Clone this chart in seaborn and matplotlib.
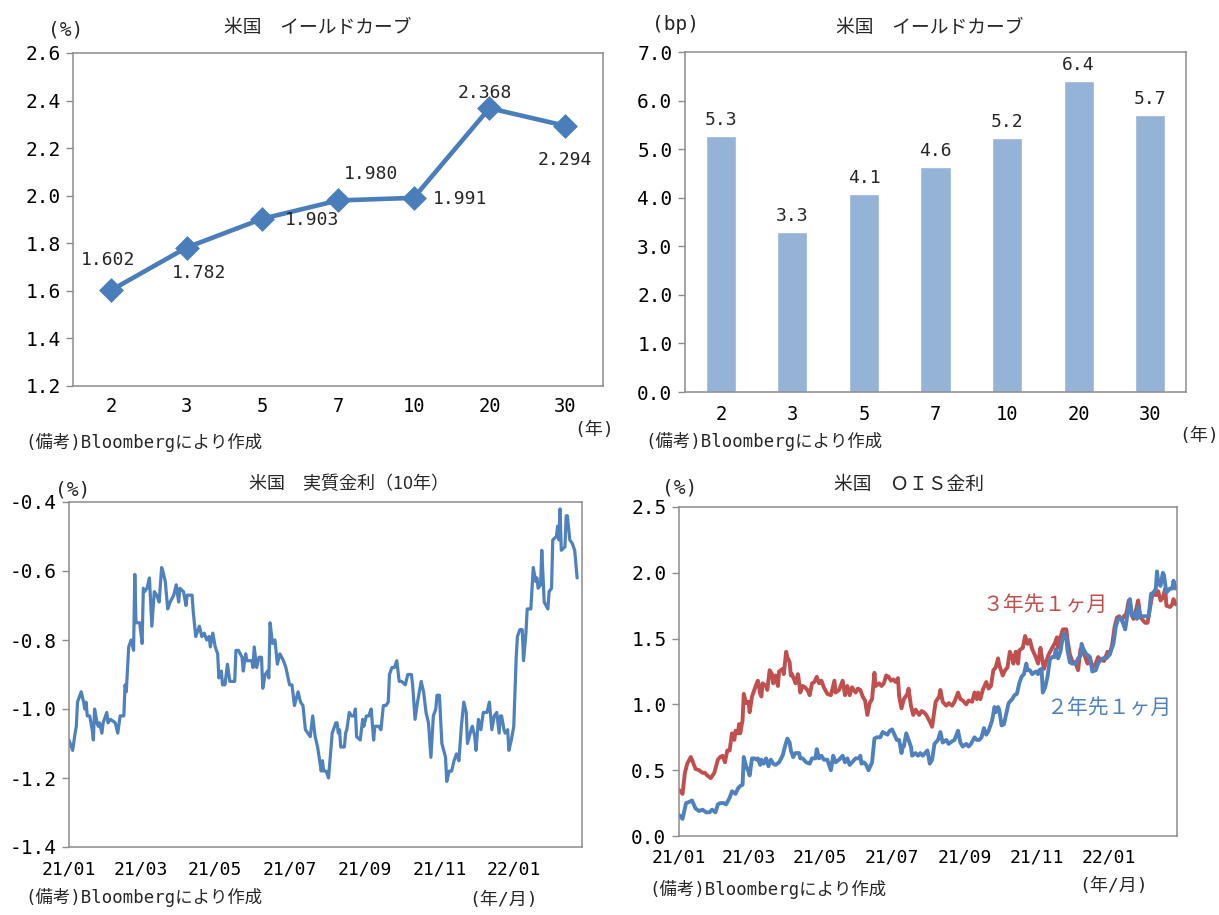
import numpy as np
import pandas as pd
import matplotlib
matplotlib.use("Agg")
import matplotlib.pyplot as plt
import matplotlib.dates as mdates
import seaborn as sns

sns.set_theme(style="white")
plt.rcParams['font.family'] = ['DejaVu Sans Mono', 'Noto Sans CJK JP']
plt.rcParams['axes.unicode_minus'] = False

# ---------------- data ----------------
maturities = ["2", "3", "5", "7", "10", "20", "30"]
yields_pct = [1.602, 1.782, 1.903, 1.980, 1.991, 2.368, 2.294]
yield_chg_bp = [5.27, 3.30, 4.07, 4.64, 5.23, 6.41, 5.71]

start_date = "2021-01-01"
# US 10y real rate: days since 2021-01-01, value (%)
real_days = [0, 3, 5, 6, 7, 10, 12, 13, 14, 15, 17, 19, 20, 21, 23, 24, 25, 27, 28, 31,
             32, 34, 38, 40, 42, 45, 46, 47, 49, 51, 53, 54, 55, 58, 60, 61, 62, 64, 66, 68,
             70, 72, 74, 76, 77, 79, 81, 83, 86, 88, 90, 91, 94, 96, 97, 101, 102, 104, 107, 109,
             111, 113, 115, 116, 118, 120, 122, 123, 125, 126, 128, 130, 132, 136, 137, 139, 142, 143, 145, 146,
             150, 151, 152, 154, 156, 158, 159, 161, 163, 164, 165, 167, 169, 171, 173, 176, 178, 181, 183, 185,
             188, 190, 192, 194, 196, 198, 200, 202, 204, 207, 208, 209, 211, 213, 216, 219, 220, 221, 222, 223,
             226, 227, 228, 230, 232, 234, 235, 236, 239, 241, 242, 244, 246, 248, 250, 251, 254, 256, 258, 260,
             262, 263, 265, 267, 269, 271, 273, 276, 278, 281, 282, 284, 286, 289, 291, 293, 295, 297, 299, 301,
             302, 304, 306, 309, 310, 312, 314, 316, 318, 320, 322, 324, 326, 327, 330, 331, 333, 334, 336, 338,
             340, 343, 345, 347, 349, 351, 353, 354, 355, 357, 358, 360, 361, 363, 365, 367, 368, 370, 372, 373,
             375, 376, 379, 381, 383, 384, 385, 387, 388, 390, 393, 394, 396, 397, 400, 401, 402, 403, 404, 407,
             408, 409, 411, 413, 415, 417]
real_rate = [-1.09, -1.12, -1.07, -1.05, -0.98, -0.95, -0.98, -1.00, -0.98, -1.02, -1.02, -1.06, -1.09, -1.00, -1.04, -1.05, -1.04, -1.07, -1.04, -1.01,
             -1.04, -1.03, -1.04, -1.07, -1.02, -1.02, -0.93, -0.95, -0.82, -0.80, -0.83, -0.61, -0.75, -0.75, -0.81, -0.65, -0.66, -0.65, -0.62, -0.76,
             -0.66, -0.67, -0.69, -0.59, -0.60, -0.63, -0.71, -0.69, -0.67, -0.64, -0.69, -0.65, -0.66, -0.70, -0.67, -0.67, -0.72, -0.79, -0.76, -0.79,
             -0.78, -0.80, -0.79, -0.82, -0.78, -0.82, -0.84, -0.91, -0.89, -0.93, -0.93, -0.87, -0.92, -0.92, -0.83, -0.83, -0.85, -0.89, -0.84, -0.86,
             -0.86, -0.88, -0.82, -0.88, -0.85, -0.85, -0.94, -0.90, -0.89, -0.91, -0.75, -0.81, -0.80, -0.87, -0.84, -0.86, -0.88, -0.93, -0.93, -0.99,
             -0.95, -0.98, -0.99, -1.06, -1.07, -1.08, -1.02, -1.08, -1.11, -1.18, -1.15, -1.18, -1.18, -1.20, -1.07, -1.04, -1.04, -1.07, -1.06, -1.11,
             -1.11, -1.07, -1.06, -1.01, -1.02, -1.02, -1.00, -1.08, -1.09, -1.03, -1.05, -1.02, -1.02, -1.00, -1.09, -1.05, -1.05, -1.06, -0.99, -0.99,
             -0.98, -0.90, -0.88, -0.88, -0.86, -0.92, -0.92, -0.93, -0.90, -0.90, -0.93, -1.03, -0.98, -0.92, -0.95, -1.01, -1.04, -1.14, -1.02, -1.00,
             -0.96, -0.96, -1.10, -1.14, -1.21, -1.18, -1.18, -1.15, -1.13, -1.15, -1.05, -0.98, -1.01, -1.10, -1.06, -1.05, -1.08, -1.12, -1.03, -1.06,
             -1.01, -1.01, -0.98, -1.06, -1.02, -1.01, -1.07, -1.02, -1.02, -1.06, -1.07, -1.06, -1.12, -1.09, -1.05, -0.85, -0.79, -0.77, -0.77, -0.86,
             -0.78, -0.71, -0.71, -0.59, -0.63, -0.62, -0.65, -0.64, -0.54, -0.69, -0.71, -0.66, -0.65, -0.51, -0.50, -0.47, -0.51, -0.42, -0.54, -0.53,
             -0.44, -0.44, -0.51, -0.52, -0.54, -0.62]

# US OIS 3y-forward 1m
ois3_days = [0, 3, 5, 7, 10, 11, 14, 17, 20, 22, 24, 27, 30, 33, 35, 37, 39, 41, 43, 45,
             47, 48, 50, 51, 52, 54, 55, 57, 59, 60, 62, 64, 66, 67, 69, 70, 71, 74, 75, 77,
             79, 80, 82, 84, 85, 88, 89, 91, 92, 94, 95, 96, 99, 101, 102, 103, 105, 107, 109, 111,
             113, 115, 117, 119, 121, 123, 126, 129, 132, 133, 136, 139, 141, 143, 145, 147, 150, 152, 154, 156,
             158, 160, 162, 164, 166, 167, 170, 172, 174, 176, 178, 180, 182, 184, 186, 187, 189, 191, 194, 195,
             197, 199, 201, 204, 206, 208, 210, 213, 215, 218, 221, 222, 224, 227, 229, 232, 234, 237, 239, 241,
             244, 246, 249, 251, 253, 254, 256, 258, 261, 263, 265, 267, 269, 271, 272, 275, 277, 279, 281, 283,
             284, 286, 288, 289, 292, 294, 296, 298, 300, 303, 305, 307, 308, 310, 312, 314, 317, 319, 321, 322,
             324, 326, 329, 330, 332, 334, 337, 339, 341, 343, 345, 347, 349, 351, 354, 356, 358, 361, 364, 366,
             368, 370, 372, 374, 376, 378, 380, 382, 384, 386, 388, 390, 392, 394, 396, 398, 400, 402, 404, 405,
             407, 409, 411, 413, 414, 417, 419, 420, 422]
ois3_rate = [0.35, 0.32, 0.48, 0.55, 0.60, 0.58, 0.51, 0.50, 0.48, 0.48, 0.46, 0.44, 0.48, 0.58, 0.60, 0.61, 0.56, 0.65, 0.65, 0.78,
             0.73, 0.80, 0.78, 0.85, 0.78, 0.88, 1.08, 1.01, 1.02, 0.94, 1.06, 1.11, 1.16, 1.18, 1.08, 1.06, 1.16, 1.14, 1.11, 1.26,
             1.23, 1.16, 1.22, 1.14, 1.25, 1.27, 1.23, 1.40, 1.36, 1.32, 1.22, 1.23, 1.16, 1.23, 1.17, 1.09, 1.14, 1.13, 1.11, 1.07,
             1.16, 1.17, 1.21, 1.16, 1.18, 1.13, 1.08, 1.07, 1.18, 1.09, 1.11, 1.18, 1.07, 1.14, 1.07, 1.13, 1.09, 1.12, 1.11, 1.06,
             1.03, 0.92, 1.01, 1.04, 1.24, 1.14, 1.16, 1.14, 1.16, 1.22, 1.21, 1.18, 1.19, 1.17, 1.20, 1.06, 0.97, 1.04, 1.08, 1.12,
             0.99, 0.92, 0.96, 0.92, 0.95, 0.94, 0.92, 0.87, 0.83, 1.02, 1.06, 1.11, 1.02, 0.99, 1.01, 0.99, 1.02, 1.09, 1.04, 1.03,
             1.00, 1.03, 1.02, 1.09, 1.04, 1.09, 1.04, 1.11, 1.17, 1.12, 1.14, 1.26, 1.28, 1.35, 1.30, 1.22, 1.26, 1.28, 1.40, 1.36,
             1.31, 1.40, 1.31, 1.41, 1.43, 1.52, 1.46, 1.49, 1.42, 1.36, 1.31, 1.43, 1.37, 1.27, 1.33, 1.38, 1.43, 1.46, 1.51, 1.43,
             1.51, 1.57, 1.57, 1.49, 1.38, 1.33, 1.31, 1.26, 1.42, 1.40, 1.36, 1.31, 1.36, 1.28, 1.31, 1.36, 1.34, 1.33, 1.40, 1.38,
             1.46, 1.59, 1.66, 1.67, 1.64, 1.67, 1.69, 1.79, 1.69, 1.65, 1.71, 1.79, 1.66, 1.64, 1.62, 1.62, 1.73, 1.83, 1.84, 1.83,
             1.86, 1.79, 1.81, 1.88, 1.75, 1.74, 1.76, 1.80, 1.76]

# US OIS 2y-forward 1m
ois2_days = [0, 3, 6, 9, 11, 14, 17, 20, 23, 26, 28, 31, 33, 35, 38, 40, 43, 45, 48, 50,
             52, 54, 55, 57, 59, 60, 62, 64, 66, 67, 69, 70, 72, 74, 76, 78, 80, 82, 85, 88,
             90, 92, 94, 95, 97, 99, 102, 103, 105, 108, 111, 113, 116, 117, 119, 121, 123, 126, 129, 131,
             133, 136, 139, 141, 143, 145, 147, 150, 153, 154, 155, 157, 159, 161, 163, 164, 166, 168, 171, 173,
             175, 177, 179, 181, 183, 185, 187, 189, 190, 191, 193, 195, 197, 198, 201, 203, 205, 207, 209, 211,
             213, 215, 217, 220, 222, 224, 227, 229, 232, 234, 237, 239, 241, 244, 246, 248, 251, 253, 255, 257,
             259, 261, 263, 266, 268, 269, 271, 272, 274, 276, 278, 280, 283, 285, 287, 289, 291, 293, 295, 296,
             298, 300, 303, 305, 306, 308, 309, 311, 313, 315, 317, 319, 320, 322, 324, 325, 327, 329, 330, 332,
             334, 337, 339, 341, 342, 343, 346, 348, 350, 351, 354, 356, 358, 360, 363, 365, 367, 369, 371, 373,
             375, 377, 379, 381, 383, 385, 387, 389, 390, 392, 394, 397, 399, 401, 403, 405, 406, 407, 409, 411,
             412, 414, 417, 419, 420, 422]
ois2_rate = [0.16, 0.13, 0.25, 0.26, 0.27, 0.21, 0.19, 0.20, 0.18, 0.18, 0.20, 0.18, 0.24, 0.25, 0.25, 0.24, 0.29, 0.34, 0.32, 0.36,
             0.38, 0.39, 0.60, 0.53, 0.49, 0.46, 0.59, 0.59, 0.58, 0.59, 0.54, 0.58, 0.55, 0.59, 0.53, 0.58, 0.55, 0.54, 0.56, 0.61,
             0.68, 0.74, 0.71, 0.65, 0.60, 0.63, 0.63, 0.59, 0.59, 0.56, 0.55, 0.59, 0.59, 0.66, 0.59, 0.61, 0.58, 0.58, 0.50, 0.61,
             0.56, 0.58, 0.61, 0.56, 0.59, 0.54, 0.56, 0.59, 0.59, 0.61, 0.55, 0.56, 0.54, 0.50, 0.54, 0.56, 0.74, 0.75, 0.75, 0.79,
             0.78, 0.77, 0.80, 0.81, 0.77, 0.73, 0.73, 0.63, 0.68, 0.68, 0.78, 0.73, 0.68, 0.61, 0.63, 0.61, 0.63, 0.61, 0.63, 0.65,
             0.55, 0.58, 0.70, 0.73, 0.79, 0.71, 0.73, 0.70, 0.72, 0.73, 0.80, 0.71, 0.68, 0.70, 0.68, 0.70, 0.75, 0.73, 0.73, 0.75,
             0.82, 0.77, 0.80, 0.88, 0.98, 0.94, 0.98, 0.96, 0.84, 0.85, 0.93, 1.01, 1.04, 1.07, 1.08, 1.16, 1.21, 1.23, 1.31, 1.26,
             1.26, 1.23, 1.25, 1.23, 1.26, 1.27, 1.09, 1.13, 1.21, 1.34, 1.36, 1.36, 1.42, 1.35, 1.40, 1.46, 1.54, 1.51, 1.41, 1.32,
             1.31, 1.31, 1.35, 1.37, 1.46, 1.43, 1.38, 1.37, 1.31, 1.25, 1.26, 1.31, 1.34, 1.35, 1.35, 1.37, 1.41, 1.46, 1.59, 1.65,
             1.66, 1.62, 1.57, 1.69, 1.80, 1.67, 1.69, 1.65, 1.74, 1.67, 1.67, 1.67, 1.67, 1.84, 1.85, 1.88, 2.01, 1.93, 1.90, 2.00,
             1.98, 1.85, 1.88, 1.88, 1.94, 1.88]

# ---------------- layout helpers ----------------
W, H = 1219, 915
fig = plt.figure(figsize=(W / 100, H / 100), dpi=100)
fig.patch.set_facecolor("white")


def rect(l, t, r, b):
    return [l / W, 1 - b / H, (r - l) / W, (b - t) / H]


def ftext(x, y, s, **kw):
    kw.setdefault("ha", "center")
    kw.setdefault("va", "center")
    fig.text(x / W, 1 - y / H, s, **kw)


CJK = ['Noto Sans CJK JP', 'DejaVu Sans']
SPINE = "#8c8c8c"


def style_axes(ax, xpad, xsize=13.5):
    for s in ax.spines.values():
        s.set_color(SPINE)
        s.set_linewidth(1.1)
        s.set_visible(True)
    ax.tick_params(axis="y", which="both", left=True, direction="out", length=5,
                   width=1.0, color=SPINE, labelsize=14, pad=4, labelcolor="black")
    ax.tick_params(axis="x", which="both", bottom=False, length=0, labelsize=xsize,
                   pad=xpad, labelcolor="black")
    ax.grid(False)
    ax.set_xlabel("")
    ax.set_ylabel("")
    ax.set_facecolor("white")


def to_dates(days):
    return pd.Timestamp(start_date) + pd.to_timedelta(days, unit="D")


# ---------------- top-left: yield curve (line) ----------------
ax1 = fig.add_axes(rect(73, 53, 603, 386))
sns.pointplot(x=maturities, y=yields_pct, color="#4A7EBB", markers="D",
              errorbar=None, ax=ax1, markersize=10, linewidth=3.3)
ax1.set_xlim(-0.5, len(maturities) - 0.5)
ax1.set_ylim(1.2, 2.6)
ax1.set_yticks(np.arange(1.2, 2.61, 0.2))
ax1.set_yticklabels([f"{v:.1f}" for v in np.arange(1.2, 2.61, 0.2)])
style_axes(ax1, 8)
label_offsets = [(-3, 30), (12, -25), (50, -1), (33, 26), (46, -1), (-5, 15), (0, -34)]
for i, (v, off) in enumerate(zip(yields_pct, label_offsets)):
    ax1.annotate(f"{v:.3f}", (i, v), xytext=off, textcoords="offset pixels",
                 ha="center", va="center", fontsize=13)
ftext(318, 28, "米国　イールドカーブ", fontsize=13.5, family=CJK)
ftext(66, 30, "(%)", fontsize=14)
ftext(594, 430, "(年)", fontsize=13)
ftext(25, 442, "(備考)Bloombergにより作成", fontsize=12.5, ha="left")

# ---------------- top-right: yield changes (bars) ----------------
ax2 = fig.add_axes(rect(685, 52, 1186, 392))
sns.barplot(x=maturities, y=yield_chg_bp, color="#95B3D7", saturation=1,
            width=0.42, ax=ax2, errorbar=None)
ax2.set_xlim(-0.5, len(maturities) - 0.5)
ax2.set_ylim(0, 7)
ax2.set_yticks(np.arange(0, 7.01, 1.0))
ax2.set_yticklabels([f"{v:.1f}" for v in np.arange(0, 7.01, 1.0)])
style_axes(ax2, 9)
ax2.bar_label(ax2.containers[0], fmt="%.1f", padding=5, fontsize=13)
ftext(930, 28, "米国　イールドカーブ", fontsize=13.5, family=CJK)
ftext(675, 24, "(bp)", fontsize=14)
ftext(1199, 436, "(年)", fontsize=13)
ftext(645, 441, "(備考)Bloombergにより作成", fontsize=12.5, ha="left")

# ---------------- bottom-left: real rate ----------------
ax3 = fig.add_axes(rect(69, 502, 582, 847))
sns.lineplot(x=to_dates(real_days), y=real_rate, estimator=None, sort=False,
             color="#4F81BD", linewidth=2.3, ax=ax3)
ax3.set_xlim(pd.Timestamp("2021-01-01"), pd.Timestamp("2022-02-26"))
ax3.set_ylim(-1.4, -0.4)
ax3.set_yticks(np.arange(-1.4, -0.39, 0.2))
ax3.set_yticklabels([f"{v:.1f}" for v in np.arange(-1.4, -0.39, 0.2)])
ax3.xaxis.set_major_locator(mdates.MonthLocator(bymonth=[1, 3, 5, 7, 9, 11]))
ax3.xaxis.set_major_formatter(mdates.DateFormatter("%y/%m"))
style_axes(ax3, 10, xsize=13)
ftext(349, 484, "米国　実質金利（10年）", fontsize=13, family=CJK)
ftext(73, 490, "(%)", fontsize=14)
ftext(25, 897, "(備考)Bloombergにより作成", fontsize=12.5, ha="left")
ftext(504, 900, "(年/月)", fontsize=13)

# ---------------- bottom-right: OIS ----------------
ax4 = fig.add_axes(rect(679, 507, 1177, 836))
sns.lineplot(x=to_dates(ois3_days), y=ois3_rate, estimator=None, sort=False,
             color="#C0504D", linewidth=2.8, ax=ax4)
sns.lineplot(x=to_dates(ois2_days), y=ois2_rate, estimator=None, sort=False,
             color="#4F81BD", linewidth=2.8, ax=ax4)
ax4.set_xlim(pd.Timestamp("2021-01-01"), pd.Timestamp("2022-02-28"))
ax4.set_ylim(0, 2.5)
ax4.set_yticks(np.arange(0, 2.51, 0.5))
ax4.set_yticklabels([f"{v:.1f}" for v in np.arange(0, 2.51, 0.5)])
ax4.xaxis.set_major_locator(mdates.MonthLocator(bymonth=[1, 3, 5, 7, 9, 11]))
ax4.xaxis.set_major_formatter(mdates.DateFormatter("%y/%m"))
style_axes(ax4, 9, xsize=13)
ftext(1045, 605, "３年先１ヶ月", fontsize=15, color="#C0504D", family=CJK)
ftext(1109, 708, "２年先１ヶ月", fontsize=15, color="#4F81BD", family=CJK)
ftext(909, 484, "米国　ＯＩＳ金利", fontsize=13.5, family=CJK)
ftext(680, 488, "(%)", fontsize=14)
ftext(649, 889, "(備考)Bloombergにより作成", fontsize=12.5, ha="left")
ftext(1114, 886, "(年/月)", fontsize=13)

fig.savefig("out.png", dpi=100, facecolor="white")
